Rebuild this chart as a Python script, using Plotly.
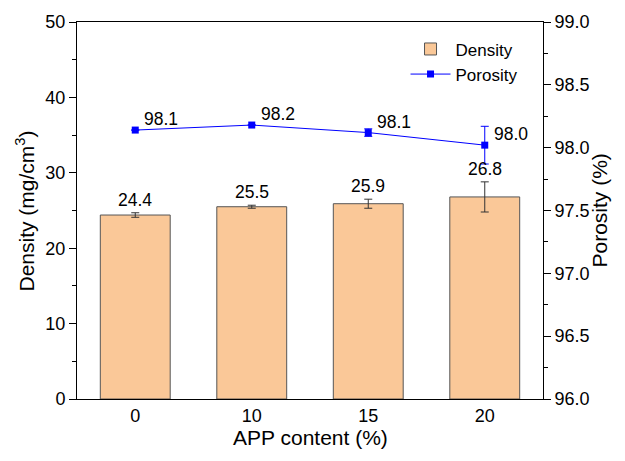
import plotly.graph_objects as go

categories = ["0", "10", "15", "20"]
density = [24.4, 25.5, 25.9, 26.8]
density_err = [0.3, 0.2, 0.6, 2.0]
porosity = [98.14, 98.18, 98.12, 98.02]
porosity_err = [0.0, 0.0, 0.03, 0.15]
density_labels = ["24.4", "25.5", "25.9", "26.8"]
porosity_labels = ["98.1", "98.2", "98.1", "98.0"]

FONT = "Liberation Sans, Arial, sans-serif"

fig = go.Figure()
fig.add_trace(go.Bar(
    x=categories, y=density, name="Density", width=0.6,
    marker=dict(color="#FAC898", line=dict(color="#555555", width=1)),
    error_y=dict(type="data", array=density_err, color="#333333", thickness=1, width=4),
    yaxis="y",
))
fig.add_trace(go.Scatter(
    x=categories, y=porosity, name="Porosity", mode="lines+markers",
    line=dict(color="#0000FF", width=1),
    marker=dict(symbol="square", size=7, color="#0000FF"),
    error_y=dict(type="data", array=porosity_err, color="#0000FF", thickness=1, width=4),
    yaxis="y2",
))

annotations = []
for i, (v, e, t) in enumerate(zip(density, density_err, density_labels)):
    annotations.append(dict(x=i, y=v + e, xref="x", yref="y", text=t, showarrow=False,
                            xanchor="center", yanchor="bottom", yshift=1,
                            font=dict(family=FONT, size=17.5, color="black")))
for i, (v, t) in enumerate(zip(porosity, porosity_labels)):
    annotations.append(dict(x=i, y=v, xref="x", yref="y2", text=t, showarrow=False,
                            xanchor="left", yanchor="middle", xshift=7, yshift=11,
                            font=dict(family=FONT, size=17.5, color="black")))

# axis titles
annotations.append(dict(x=0.5, y=-0.1008, xref="paper", yref="paper", text="APP content (%)",
                        showarrow=False, xanchor="center", yanchor="middle",
                        font=dict(family=FONT, size=21, color="black")))
annotations.append(dict(x=-0.1116, y=0.5, xref="paper", yref="paper",
                        text="Density (mg/cm<sup>3</sup>)", textangle=-90,
                        showarrow=False, xanchor="center", yanchor="middle",
                        font=dict(family=FONT, size=21, color="black")))
annotations.append(dict(x=1.1223, y=0.5, xref="paper", yref="paper",
                        text="Porosity (%)", textangle=-90,
                        showarrow=False, xanchor="center", yanchor="middle",
                        font=dict(family=FONT, size=21, color="black")))

fig.update_layout(
    width=617, height=453,
    margin=dict(l=69, r=82, t=14, b=62),
    paper_bgcolor="white", plot_bgcolor="white",
    font=dict(family=FONT, size=18, color="black"),
    showlegend=True,
    legend=dict(x=0.705, y=0.975, xanchor="left", yanchor="top",
                bgcolor="rgba(0,0,0,0)", font=dict(family=FONT, size=17),
                itemwidth=40, tracegroupgap=0),
    annotations=annotations,
    xaxis=dict(type="category", range=[-0.5, 3.5], showline=True, linecolor="black",
               linewidth=1, mirror=True, ticks="", showgrid=False, automargin=False,
               tickfont=dict(size=18)),
    yaxis=dict(range=[0, 50], dtick=10, showline=True, linecolor="black", linewidth=1,
               ticks="outside", ticklen=7, tickcolor="black", showgrid=False, zeroline=False,
               minor=dict(ticks="outside", dtick=5, ticklen=4, tickcolor="black"),
               automargin=False, tickfont=dict(size=18)),
    yaxis2=dict(range=[96, 99], dtick=0.5, tickformat=".1f", overlaying="y", side="right",
                showline=True, linecolor="black", linewidth=1,
                ticks="outside", ticklen=7, tickcolor="black", showgrid=False, zeroline=False,
                minor=dict(ticks="outside", dtick=0.25, ticklen=4, tickcolor="black"),
                automargin=False, tickfont=dict(size=18)),
)

fig.write_html("out.html")
